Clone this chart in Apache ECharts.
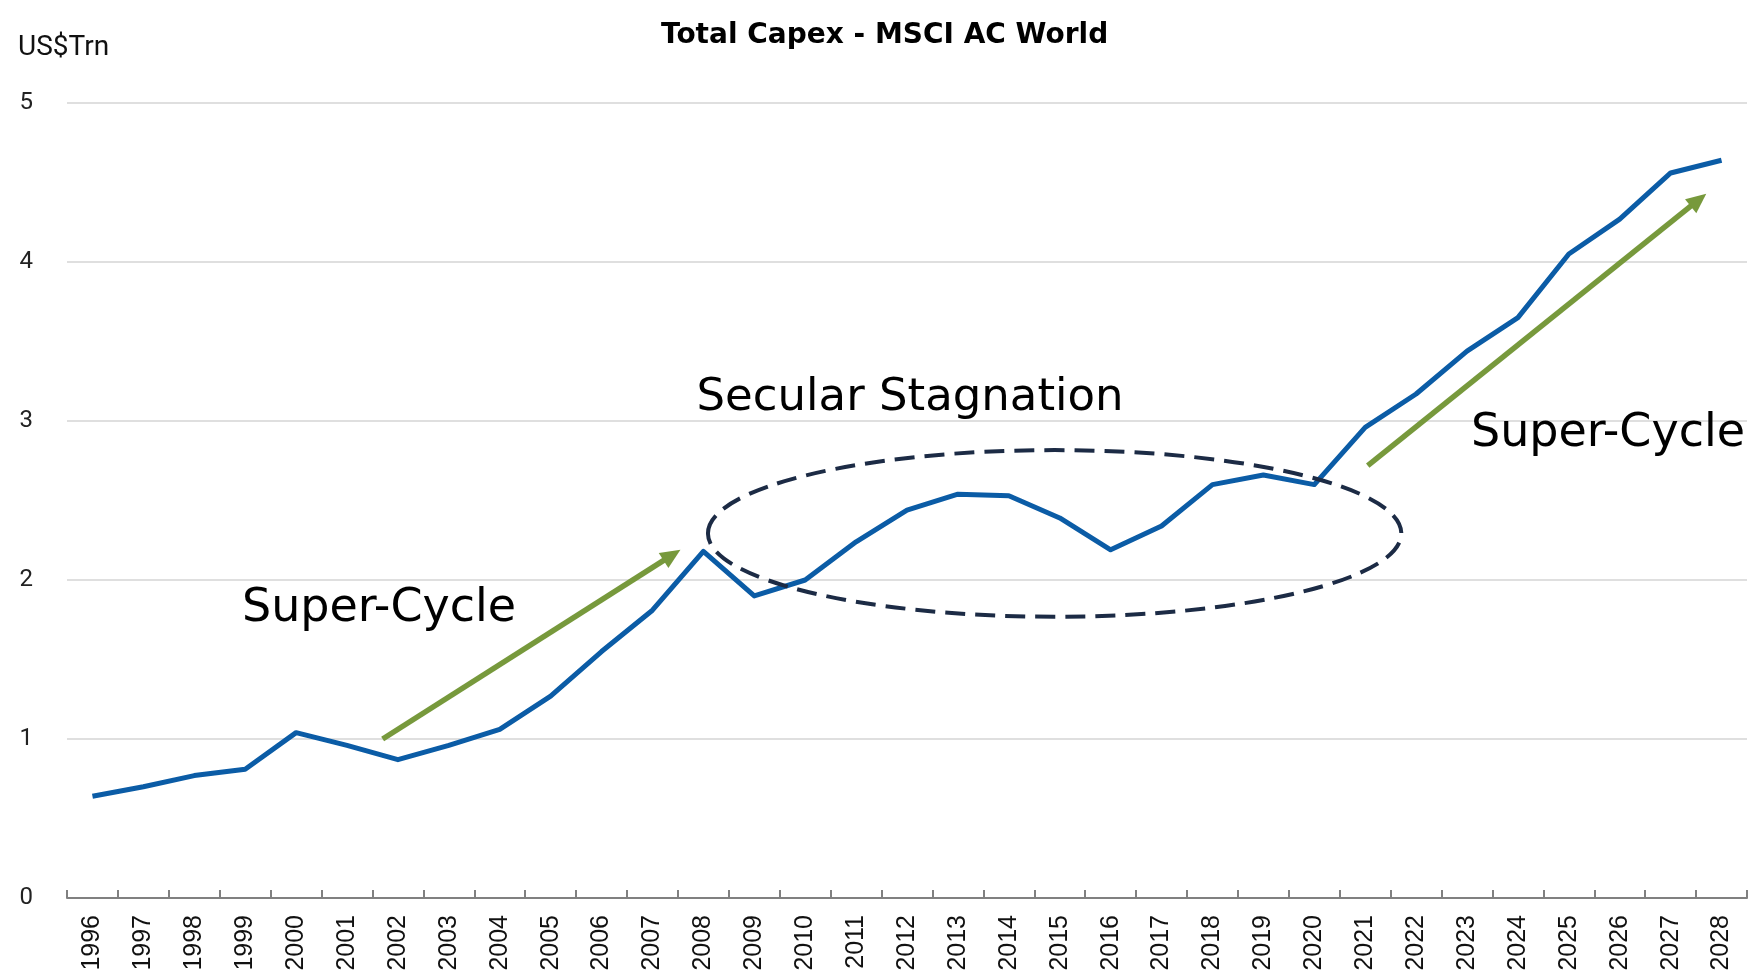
<!DOCTYPE html>
<html>
<head>
<meta charset="utf-8">
<title>Total Capex - MSCI AC World</title>
<script src="https://cdn.jsdelivr.net/npm/echarts@6.0.0/dist/echarts.min.js"></script>
<style>
html, body { margin: 0; padding: 0; background: #fff; }
#main { width: 1758px; height: 970px; }
</style>
</head>
<body>
<div id="main"></div>
<script>
var years = ['1996', '1997', '1998', '1999', '2000', '2001', '2002', '2003', '2004', '2005', '2006',
	'2007', '2008', '2009', '2010', '2011', '2012', '2013', '2014', '2015', '2016', '2017',
	'2018', '2019', '2020', '2021', '2022', '2023', '2024', '2025', '2026', '2027', '2028'];
// US$ trillion
var capex = [0.64, 0.70, 0.77, 0.81, 1.04, 0.96, 0.87, 0.96, 1.06, 1.27, 1.55,
	1.81, 2.18, 1.90, 2.00, 2.24, 2.44, 2.54, 2.53, 2.39, 2.19, 2.34,
	2.60, 2.66, 2.60, 2.96, 3.17, 3.44, 3.65, 4.05, 4.27, 4.56, 4.64];
var yMin = 0;
var yMax = 5;
var yStep = 1;

var myChart = echarts.init(document.getElementById('main'));
var option = {
	animation: false,
	backgroundColor: '#fff',
	title: [{
		text: 'Total Capex - MSCI AC World',
		left: 656,
		top: 17,
		textStyle: {
			fontFamily: 'DejaVu Sans',
			fontWeight: 'bold',
			fontSize: 28,
			color: '#000'
		}
	}, {
		text: 'US$Trn',
		left: 13,
		top: 29,
		textStyle: {
			fontFamily: 'Roboto',
			fontWeight: 'normal',
			fontSize: 28,
			color: '#111'
		}
	}],
	grid: {
		left: 67,
		right: 11,
		top: 103,
		bottom: 72,
		containLabel: false,
		outerBoundsMode: 'none'
	},
	xAxis: {
		type: 'category',
		data: years,
		boundaryGap: true,
		axisLine: { lineStyle: { color: '#808080', width: 2 } },
		axisTick: { show: true, inside: true, length: 8, alignWithLabel: false, lineStyle: { color: '#808080', width: 2 } },
		axisLabel: {
			rotate: 90,
			margin: 17,
			interval: 0,
			fontFamily: "'Liberation Sans Narrow', 'Liberation Sans', sans-serif",
			fontSize: 25,
			color: '#111'
		},
		splitLine: { show: false }
	},
	yAxis: {
		type: 'value',
		min: yMin,
		max: yMax,
		interval: yStep,
		axisLine: { show: false },
		axisTick: { show: false },
		axisLabel: {
			margin: 34,
			align: 'right',
			fontFamily: 'Roboto',
			fontSize: 24,
			color: '#222'
		},
		splitLine: { lineStyle: { color: '#d4d4d4', width: 1.5 } }
	},
	series: [{
		name: 'Total Capex',
		type: 'line',
		data: capex,
		showSymbol: false,
		symbol: 'none',
		lineStyle: { color: '#0b5ca6', width: 5, join: 'round' },
		itemStyle: { color: '#0b5ca6' }
	}]
};
myChart.setOption(option);

// annotation helpers, positions given as [category index, value]
function toPx(idx, val) {
	var a = myChart.convertToPixel({ gridIndex: 0 }, [0, val]);
	var b = myChart.convertToPixel({ gridIndex: 0 }, [1, val]);
	return [a[0] + idx * (b[0] - a[0]), a[1]];
}

function arrow(from, to, color) {
	var p = toPx(from[0], from[1]);
	var q = toPx(to[0], to[1]);
	var dx = q[0] - p[0], dy = q[1] - p[1];
	var len = Math.sqrt(dx * dx + dy * dy);
	var ux = dx / len, uy = dy / len;
	var hl = 20, hw = 9;
	var bx = q[0] - ux * hl, by = q[1] - uy * hl;
	return [{
		type: 'line',
		shape: { x1: p[0], y1: p[1], x2: bx + ux * 2, y2: by + uy * 2 },
		style: { stroke: color, lineWidth: 5.5 }
	}, {
		type: 'polygon',
		shape: { points: [q, [bx - uy * hw, by + ux * hw], [bx + uy * hw, by - ux * hw]] },
		style: { fill: color }
	}];
}

function label(text, at, size) {
	var p = toPx(at[0], at[1]);
	return {
		type: 'text',
		x: p[0],
		y: p[1],
		style: {
			text: text,
			font: 'normal ' + size + 'px "DejaVu Sans"',
			fill: '#000',
			align: 'center',
			verticalAlign: 'middle'
		}
	};
}

var green = '#77993c';
var c = toPx(18.9, 2.293);
var o = toPx(0, 0);
var one = toPx(1, 1);
var els = [];
els.push({
	type: 'ellipse',
	shape: { cx: c[0], cy: c[1], rx: 6.81 * (one[0] - o[0]), ry: 0.524 * (o[1] - one[1]) },
	style: { fill: 'none', stroke: '#1c2b45', lineWidth: 4, lineDash: [20, 10] },
	z: 10
});
els = els.concat(arrow([5.7, 1.0], [11.55, 2.19], green));
els = els.concat(arrow([25.05, 2.72], [31.7, 4.43], green));
els.push(label('Super-Cycle', [5.63, 1.82], 46));
els.push(label('Secular Stagnation', [16.06, 3.14], 45));
els.push(label('Super-Cycle', [29.77, 2.92], 46));

myChart.setOption({ graphic: els });
</script>
</body>
</html>
